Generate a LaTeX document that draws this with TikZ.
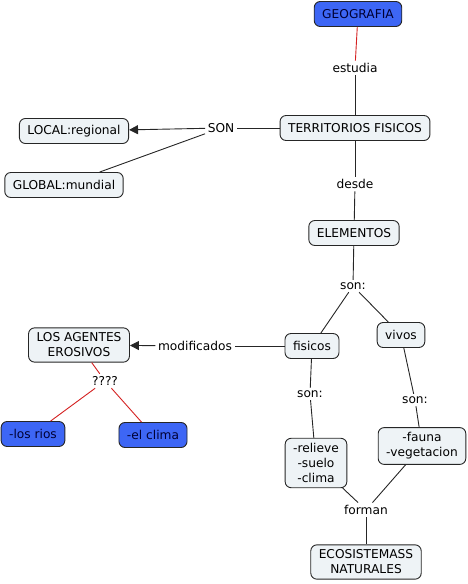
\documentclass[tikz,border=0pt]{standalone}
\usepackage{fontspec}
\setmainfont{DejaVu Sans}
\usetikzlibrary{arrows.meta}
\definecolor{boxgray}{HTML}{EEF3F6}
\definecolor{boxblue}{HTML}{3D66F5}
\definecolor{linkred}{HTML}{D42020}

\begin{document}
\begin{tikzpicture}[x=1pt, y=-1pt, font=\fontsize{12.2}{15}\selectfont,
    concept/.style={draw=black!85, line width=0.9pt, fill=boxgray, rounded corners=6pt, align=center,
      inner xsep=8pt, inner ysep=5pt, minimum height=25pt},
    bluebox/.style={concept, fill=boxblue, text=black!80!blue},
    linkword/.style={inner sep=2.5pt},
    tie/.style={draw=black!85, line width=0.9pt},
    redtie/.style={draw=linkred, line width=0.9pt},
    arrowtie/.style={tie, -{Triangle[length=9pt, width=9pt]}}]
    \useasboundingbox (0,0) rectangle (468,584);

    % Concepts
    \node[bluebox] (geo) at (358,14) {GEOGRAFIA};
    \node[concept] (terr) at (355,128) {TERRITORIOS FISICOS};
    \node[concept] (local) at (74,131) {LOCAL:regional};
    \node[concept] (global) at (64,185) {GLOBAL:mundial};
    \node[concept] (elem) at (354,233) {ELEMENTOS};
    \node[concept] (fis) at (312,346) {fisicos};
    \node[concept] (viv) at (401,335) {vivos};
    \node[concept] (agentes) at (79,345) {LOS AGENTES\\EROSIVOS};
    \node[bluebox] (rios) at (33,434) {-los rios};
    \node[bluebox] (clima) at (153,435) {-el clima};
    \node[concept] (abio) at (316,463) {-relieve\\-suelo\\-clima};
    \node[concept] (bio) at (422,446) {-fauna\\-vegetacion};
    \node[concept] (eco) at (366,562) {ECOSISTEMASS\\NATURALES};

    % Linking words
    \node[linkword] (estudia) at (355,68) {estudia};
    \node[linkword] (son) at (221,128) {SON};
    \node[linkword] (desde) at (355,184) {desde};
    \node[linkword] (sonel) at (353,286) {son:};
    \node[linkword] (modif) at (195,346) {modificados};
    \node[linkword] (quest) at (105,381) {????};
    \node[linkword] (sonfis) at (310,394) {son:};
    \node[linkword] (sonviv) at (415,400) {son:};
    \node[linkword] (forman) at (366,510) {forman};

    % Connections
    \draw[redtie] (geo) -- (estudia);
    \draw[tie] (estudia) -- (terr);
    \draw[tie] (terr) -- (son);
    \draw[arrowtie] (son) -- (local);
    \draw[tie] (son) -- (global);
    \draw[tie] (terr) -- (desde);
    \draw[tie] (desde) -- (elem);
    \draw[tie] (elem) -- (sonel);
    \draw[tie] (sonel) -- (fis);
    \draw[tie] (sonel) -- (viv);
    \draw[tie] (fis) -- (modif);
    \draw[arrowtie] (modif) -- (agentes);
    \draw[redtie] (agentes) -- (quest);
    \draw[redtie] (quest) -- (rios);
    \draw[redtie] (quest) -- (clima);
    \draw[tie] (fis) -- (sonfis);
    \draw[tie] (sonfis) -- (abio);
    \draw[tie] (viv) -- (sonviv);
    \draw[tie] (sonviv) -- (bio);
    \draw[tie] (abio) -- (forman);
    \draw[tie] (bio) -- (forman);
    \draw[tie] (forman) -- (eco);
\end{tikzpicture}
\end{document}
